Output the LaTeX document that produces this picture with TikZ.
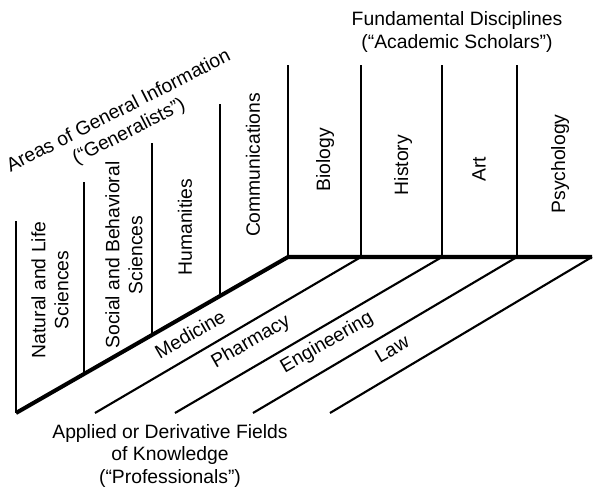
\documentclass[tikz,border=0pt]{standalone}
\usepackage{fontspec}
\setmainfont{Liberation Sans}
\begin{document}
\begin{tikzpicture}[x=0.2mm,y=0.2mm,line width=1.2pt,
  lbl/.style={font=\fontsize{11}{13}\selectfont,align=center,inner sep=0pt},
  edge/.style={line width=2.3pt}]
\useasboundingbox (0,0) rectangle (594,489);
\coordinate (A) at (16,76);
\coordinate (B) at (84,115);
\coordinate (C) at (152,154);
\coordinate (D) at (220,193);
\coordinate (E) at (288,232);
\coordinate (F) at (361,232);
\coordinate (G) at (442,232);
\coordinate (H) at (517,232);
\coordinate (I) at (592,232);
\coordinate (J) at (95,76);
\coordinate (K) at (175,76);
\coordinate (L) at (253,76);
\coordinate (M) at (330,76);

\draw (A) -- ++(0,192);
\draw (B) -- ++(0,192);
\draw (C) -- ++(0,192);
\draw (D) -- ++(0,192);
\draw (E) -- ++(0,192);
\draw (F) -- ++(0,192);
\draw (G) -- ++(0,192);
\draw (H) -- ++(0,192);
\draw (F) -- (J);
\draw (G) -- (K);
\draw (H) -- (L);
\draw (I) -- (M);
\draw[edge] (A) -- (E) -- (I);

\node[lbl,rotate=90] (NL) at (50,199) {Natural and Life\\Sciences};
\node[lbl,rotate=90] (SB) at (124,234) {Social and Behavioral\\Sciences};
\node[lbl,rotate=90] (HU) at (185,262) {Humanities};
\node[lbl,rotate=90] (CO) at (253,324) {Communications};
\node[lbl,rotate=90] (BI) at (325,329) {Biology};
\node[lbl,rotate=90] (HI) at (403,324) {History};
\node[lbl,rotate=90] (AR) at (479,320) {Art};
\node[lbl,rotate=90] (PS) at (560,325) {Psychology};
\node[lbl,rotate=30] (ME) at (190,155) {Medicine};
\node[lbl,rotate=30] (PH) at (251,147) {Pharmacy};
\node[lbl,rotate=30] (EN) at (327,146) {Engineering};
\node[lbl,rotate=30] (LA) at (392,140) {Law};
\node[lbl] (FD) at (457,457) {Fundamental Disciplines\\(``Academic Scholars'')};
\node[lbl,rotate=27] (GI) at (124,367) {Areas of General Information\\(``Generalists'')};
\node[lbl] (AD) at (170,33) {Applied or Derivative Fields\\of Knowledge\\(``Professionals'')};

\end{tikzpicture}
\end{document}
